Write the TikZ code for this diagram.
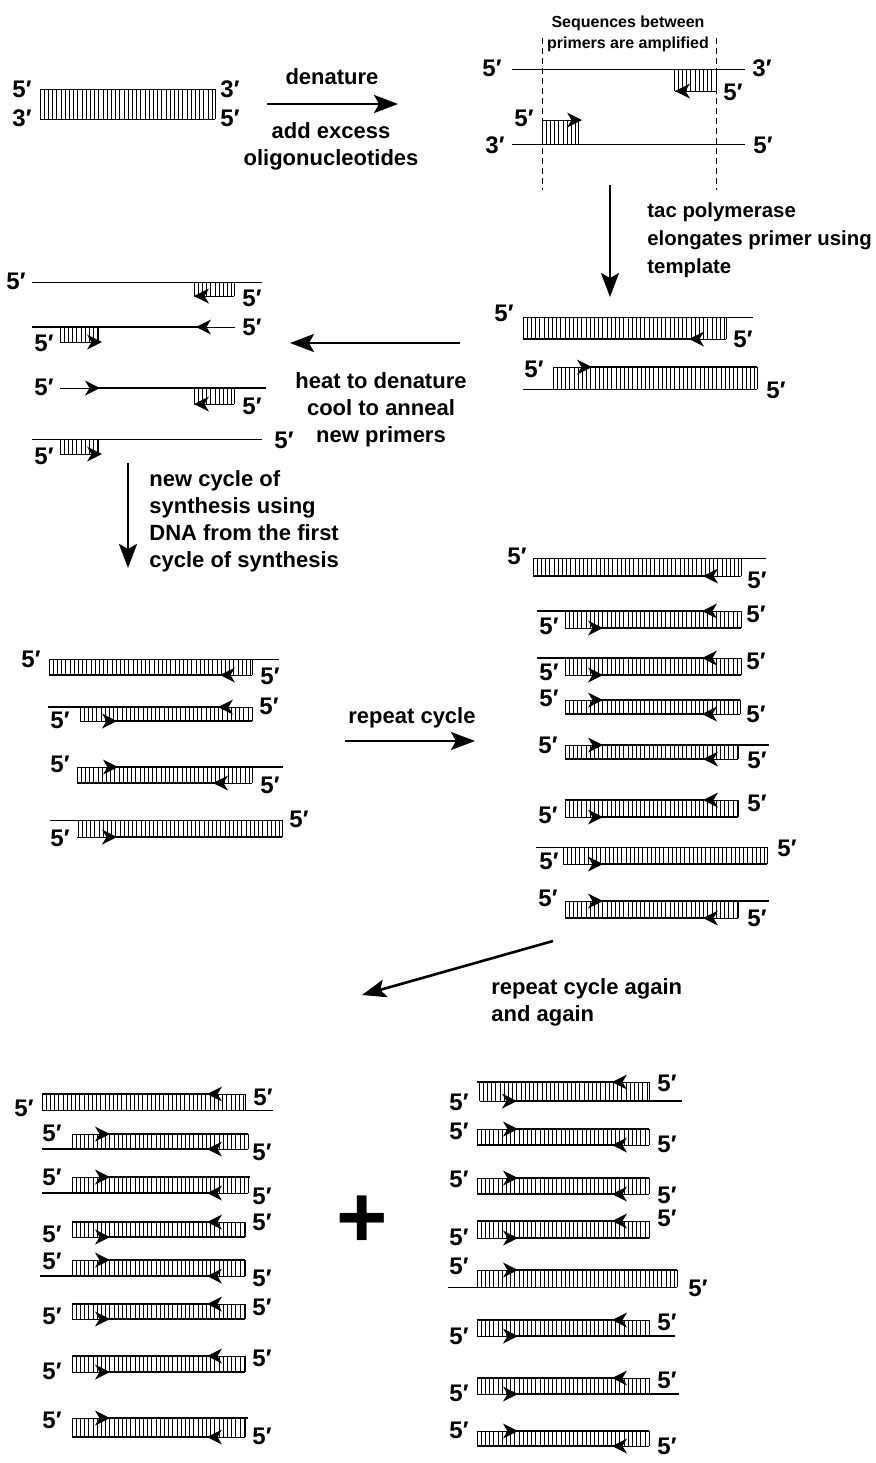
\documentclass[tikz,border=0pt]{standalone}
\usepackage{fontspec}
\setmainfont{Liberation Sans}
\usetikzlibrary{arrows.meta}
\newcounter{fpc}
\tikzset{
  thinline/.style={line width=0.5pt},
  thickline/.style={line width=1.4pt},
  hatchline/.style={line width=0.45pt},
  lab/.style={inner sep=0pt, font=\fontsize{12}{14}\selectfont\bfseries},
  txt/.style={inner sep=0pt, font=\fontsize{11}{13.5}\selectfont\bfseries},
  smalltxt/.style={inner sep=0pt, font=\fontsize{8}{10.5}\selectfont\bfseries},
  bigarrow/.style={line width=1.3pt, -{Stealth[length=12pt,width=9pt,inset=2.5pt]}},
  dashline/.style={line width=0.5pt, dashed, dash pattern=on 3pt off 2pt}
}
\newcommand\fp[2]{\stepcounter{fpc}\node[lab] (fp\arabic{fpc}) at (#1,#2) {5′};}
\newcommand\tp[2]{\stepcounter{fpc}\node[lab] (tp\arabic{fpc}) at (#1,#2) {3′};}
\newcommand\sthin[3]{\draw[thinline] (#1,#3) -- (#2,#3);}
\newcommand\dnahatch[4]{%
  \pgfmathtruncatemacro\hn{(#2-#1)/4.2}%
  \foreach \i in {0,...,\hn} {\draw[hatchline] ({#1+\i*4.2},#3) -- ({#1+\i*4.2},#4);}%
  \draw[hatchline] (#2,#3) -- (#2,#4);}
\newcommand\ahL[2]{\fill (#1,#2) -- ++(15,-7.5) -- ++(-4.5,7.5) -- ++(4.5,7.5) -- cycle;}
\newcommand\ahR[2]{\fill (#1,#2) -- ++(-15,-7.5) -- ++(4.5,7.5) -- ++(-4.5,7.5) -- cycle;}
\newcommand\strL[4]{\draw[thickline] (#1,#3) -- (#4+7,#3); \draw[thinline] (#4,#3) -- (#2,#3); \ahL{#4}{#3}}
\newcommand\strR[4]{\draw[thinline] (#1,#3) -- (#4,#3); \draw[thickline] (#4-7,#3) -- (#2,#3); \ahR{#4}{#3}}
\newcommand\prL[3]{\draw[thinline] (#1,#3) -- (#2,#3); \ahL{#1}{#3}}
\newcommand\prR[3]{\draw[thinline] (#1,#3) -- (#2,#3); \ahR{#2+4}{#3}}
\begin{document}
\begin{tikzpicture}[x=0.5pt,y=-0.5pt]
\useasboundingbox (0,0) rectangle (875,1463);
% ---------- top-left duplex
\sthin{40}{215}{89} \sthin{40}{215}{119} \dnahatch{40}{215}{89}{119}
\fp{22}{89} \tp{22}{118} \tp{230}{89} \fp{230}{118}
% denature arrow
\coordinate (d1) at (267,104); \coordinate (d2) at (398,104);
\draw[bigarrow] (d1) -- (d2);
\node[txt] (tden) at (332,77) {denature};
\node[txt,align=center] (tadd) at (331,146) {add excess\\oligonucleotides};
% ---------- top-right
\node[smalltxt,align=center] (tseq) at (628,34) {Sequences between\\primers are amplified};
\coordinate (ds1) at (542,38); \coordinate (de1) at (542,190);
\coordinate (ds2) at (716,38); \coordinate (de2) at (716,190);
\draw[dashline] (ds1) -- (de1); \draw[dashline] (ds2) -- (de2);
\sthin{512}{745}{69} \dnahatch{674}{716}{69}{91} \prL{675}{716}{91}
\sthin{512}{745}{144} \dnahatch{542}{578}{120}{144} \prR{542}{578}{120}
\fp{492}{68} \tp{762}{68} \fp{733}{92} \fp{524}{118} \tp{495}{145} \fp{763}{145}
% tac arrow
\coordinate (t1) at (610,185); \coordinate (t2) at (610,297);
\draw[bigarrow] (t1) -- (t2);
\node[txt,align=left,anchor=west,font=\fontsize{10.2}{14}\selectfont\bfseries] (ttac) at (647,240) {tac polymerase\\elongates primer using\\template};
% ---------- right duplexes after elongation
\sthin{523}{753}{317} \dnahatch{523}{726}{317}{339} \strL{523}{726}{339}{689}
\strR{553}{757}{367}{592} \dnahatch{553}{757}{367}{389} \sthin{523}{757}{389}
\fp{504}{313} \fp{743}{339} \fp{534}{369} \fp{776}{390}
% heat arrow
\coordinate (h1) at (460,343); \coordinate (h2) at (290,343);
\draw[bigarrow] (h1) -- (h2);
\node[txt,align=center] (theat) at (381,410) {heat to denature\\cool to anneal\\new primers};
% ---------- left four strands
\sthin{32}{262}{282} \dnahatch{194}{234}{282}{296} \prL{194}{234}{296}
\strL{32}{235}{327}{196} \dnahatch{60}{98}{327}{342} \prR{60}{98}{342}
\strR{60}{266}{388}{100} \dnahatch{194}{234}{388}{404} \prL{194}{234}{404}
\sthin{32}{262}{439} \dnahatch{60}{98}{439}{454} \prR{60}{98}{454}
\fp{16}{281} \fp{252}{298} \fp{252}{327} \fp{44}{343}
\fp{44}{387} \fp{252}{406} \fp{284}{440} \fp{44}{456}
% new cycle arrow
\coordinate (n1) at (128,463); \coordinate (n2) at (128,568);
\draw[bigarrow] (n1) -- (n2);
\node[txt,align=left,anchor=west] (tnew) at (149,521) {new cycle of\\synthesis using\\DNA from the first\\cycle of synthesis};
% ---------- left four duplexes
\sthin{49}{279}{659} \dnahatch{49}{252}{659}{675} \strL{49}{252}{675}{220}
\strL{48}{252}{707}{218} \dnahatch{80}{252}{707}{721} \strR{80}{252}{721}{117}
\strR{77}{283}{767}{118} \dnahatch{77}{252}{767}{783} \strL{77}{252}{783}{213}
\sthin{50}{282}{820} \dnahatch{78}{282}{820}{837} \strR{77}{282}{837}{117}
\fp{31}{659} \fp{270}{676} \fp{60}{720} \fp{269}{706}
\fp{60}{764} \fp{270}{785} \fp{60}{838} \fp{299}{819}
% repeat cycle arrow
\coordinate (r1) at (345,741); \coordinate (r2) at (475,741);
\draw[bigarrow] (r1) -- (r2);
\node[txt] (trep) at (412,718) {repeat cycle};
% ---------- right eight duplexes
\sthin{533}{766}{558} \dnahatch{533}{741}{558}{576} \strL{533}{741}{576}{703}
\strL{537}{741}{611}{702} \dnahatch{565}{741}{611}{628} \strR{565}{741}{628}{603}
\strL{537}{741}{658}{702} \dnahatch{565}{741}{658}{675} \strR{565}{741}{675}{603}
\strR{565}{740}{700}{603} \dnahatch{565}{740}{700}{714} \strL{565}{740}{714}{702}
\strR{565}{769}{745}{603} \dnahatch{565}{738}{745}{759} \strL{565}{738}{759}{703}
\strL{565}{738}{800}{703} \dnahatch{565}{738}{800}{817} \strR{565}{738}{817}{603}
\sthin{536}{767}{847} \dnahatch{563}{767}{847}{864} \strR{563}{767}{864}{603}
\strR{565}{769}{901}{603} \dnahatch{565}{738}{901}{918} \strL{565}{738}{918}{703}
\fp{517}{556} \fp{757}{580} \fp{549}{626} \fp{756}{614}
\fp{549}{672} \fp{756}{661} \fp{549}{698} \fp{756}{714}
\fp{548}{745} \fp{757}{760} \fp{548}{815} \fp{757}{803}
\fp{549}{861} \fp{787}{848} \fp{548}{898} \fp{757}{918}
% diagonal arrow
\coordinate (g1) at (553,941); \coordinate (g2) at (362,995);
\draw[bigarrow] (g1) -- (g2);
\node[txt,align=left,anchor=west] (trep2) at (491,1002) {repeat cycle again\\and again};
% ---------- bottom-left eight
\strL{42}{245}{1094}{207} \dnahatch{42}{245}{1094}{1110} \sthin{42}{273}{1110}
\strR{72}{248}{1134}{110} \dnahatch{72}{248}{1134}{1149} \strL{42}{248}{1149}{207}
\strR{72}{250}{1177}{110} \dnahatch{72}{248}{1177}{1193} \strL{42}{248}{1193}{207}
\strL{72}{245}{1222}{207} \dnahatch{72}{245}{1222}{1237} \strR{72}{245}{1237}{110}
\strR{72}{245}{1260}{110} \dnahatch{72}{245}{1260}{1276} \strL{40}{245}{1276}{207}
\strL{72}{245}{1304}{207} \dnahatch{72}{245}{1304}{1319} \strR{72}{245}{1319}{110}
\strL{72}{245}{1356}{207} \dnahatch{72}{245}{1356}{1372} \strR{72}{245}{1372}{110}
\strR{72}{248}{1418}{110} \dnahatch{72}{245}{1418}{1437} \strL{72}{245}{1437}{207}
\fp{24}{1108} \fp{263}{1097} \fp{52}{1133} \fp{262}{1152}
\fp{52}{1177} \fp{262}{1196} \fp{52}{1234} \fp{262}{1222}
\fp{52}{1261} \fp{262}{1278} \fp{52}{1316} \fp{262}{1307}
\fp{52}{1371} \fp{262}{1358} \fp{52}{1420} \fp{262}{1436}
% plus
\node[inner sep=0pt,font=\fontsize{44}{44}\selectfont\bfseries] (plus) at (362,1222) {+};
% ---------- bottom-right eight
\strL{477}{649}{1082}{612} \dnahatch{479}{649}{1082}{1101} \strR{480}{682}{1101}{517}
\strR{477}{649}{1129}{518} \dnahatch{477}{649}{1129}{1145} \strL{477}{649}{1145}{612}
\strR{477}{649}{1178}{518} \dnahatch{477}{649}{1178}{1194} \strL{477}{649}{1194}{612}
\strL{477}{649}{1221}{612} \dnahatch{477}{649}{1221}{1238} \strR{477}{649}{1238}{518}
\strR{477}{677}{1270}{518} \dnahatch{477}{677}{1270}{1287} \sthin{448}{677}{1287}
\strL{477}{649}{1320}{612} \dnahatch{477}{649}{1320}{1336} \strR{477}{675}{1336}{518}
\strL{477}{649}{1378}{612} \dnahatch{477}{649}{1378}{1394} \strR{477}{679}{1394}{518}
\strR{477}{649}{1431}{518} \dnahatch{477}{649}{1431}{1446} \strL{477}{649}{1446}{612}
\fp{459}{1102} \fp{667}{1083} \fp{459}{1131} \fp{667}{1144}
\fp{459}{1179} \fp{667}{1195} \fp{459}{1237} \fp{667}{1218}
\fp{459}{1266} \fp{698}{1288} \fp{459}{1336} \fp{667}{1322}
\fp{459}{1393} \fp{667}{1380} \fp{459}{1430} \fp{667}{1446}
\end{tikzpicture}
\end{document}
